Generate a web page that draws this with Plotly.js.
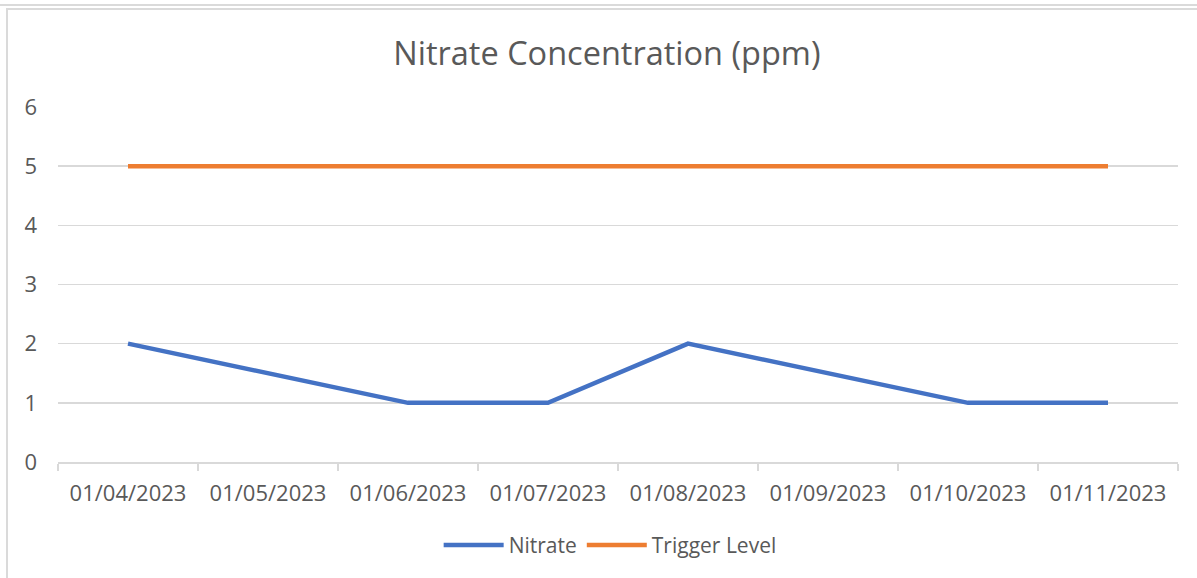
<!DOCTYPE html>
<html>
<head>
<meta charset="utf-8">
<script src="https://cdn.plot.ly/plotly-3.0.1.min.js"></script>
<style>
  html, body { margin: 0; padding: 0; background: #fff; }
  #wrap { position: relative; width: 1197px; height: 578px; overflow: hidden; }
  #chart { position: absolute; left: 0; top: 0; width: 1197px; height: 578px; }
  .frame { position: absolute; background: #DADADA; z-index: 5; }
</style>
</head>
<body>
<div id="wrap">
  <div id="chart"></div>
  <div class="frame" style="left:0; top:4px; width:1197px; height:2px;"></div>
  <div class="frame" style="left:6px; top:8px; width:1191px; height:2px;"></div>
  <div class="frame" style="left:6px; top:8px; width:2px; height:570px;"></div>
</div>
<script>
const dates = ["01/04/2023", "01/05/2023", "01/06/2023", "01/07/2023",
               "01/08/2023", "01/09/2023", "01/10/2023", "01/11/2023"];
const nitrate = [2, null, 1, 1, 2, null, 1, 1];
const trigger = [5, null, 5, 5, 5, null, 5, 5];
const yTicks = [0, 1, 2, 3, 4, 5, 6];

const textColor = "#595959";
const font = "Open Sans, sans-serif";

const traces = [
  {
    x: dates, y: nitrate, name: "Nitrate", type: "scatter", mode: "lines",
    connectgaps: true,
    line: { color: "#4472C4", width: 4.5 }
  },
  {
    x: dates, y: trigger, name: "Trigger Level", type: "scatter", mode: "lines",
    connectgaps: true,
    line: { color: "#ED7D31", width: 4.5 }
  }
];

const layout = {
  width: 1197, height: 578,
  paper_bgcolor: "#ffffff", plot_bgcolor: "#ffffff",
  margin: { l: 58, r: 19, t: 107, b: 116 },
  font: { family: font, color: textColor, size: 21 },
  title: {
    text: "Nitrate Concentration (ppm)",
    font: { family: font, size: 32.5, color: textColor },
    x: 0.507, xanchor: "center", y: 0.908, yanchor: "middle"
  },
  xaxis: {
    type: "category",
    categoryorder: "array", categoryarray: dates,
    range: [-0.5, 7.5],
    tickson: "boundaries",
    ticks: "outside", ticklen: 7, tickwidth: 1.5, tickcolor: "#D9D9D9",
    showline: true, linecolor: "#D9D9D9", linewidth: 1.5,
    showgrid: false, zeroline: false,
    tickfont: { family: font, size: 22, color: textColor },
    ticklabelstandoff: 11,
    fixedrange: true
  },
  yaxis: {
    range: [0, 6],
    tickvals: yTicks,
    ticktext: yTicks.map(String),
    showgrid: true, gridcolor: "#D9D9D9", gridwidth: 1.5,
    zeroline: false, showline: false, ticks: "",
    tickfont: { family: font, size: 22, color: textColor },
    ticklabelstandoff: 20,
    fixedrange: true
  },
  showlegend: true,
  legend: {
    orientation: "h",
    x: 0.493, xanchor: "center",
    y: -0.235, yanchor: "middle",
    font: { family: font, size: 21, color: textColor },
    itemwidth: 60,
    traceorder: "normal",
    bgcolor: "rgba(0,0,0,0)"
  }
};

Plotly.newPlot("chart", traces, layout, { displayModeBar: false, staticPlot: true });
</script>
</body>
</html>
